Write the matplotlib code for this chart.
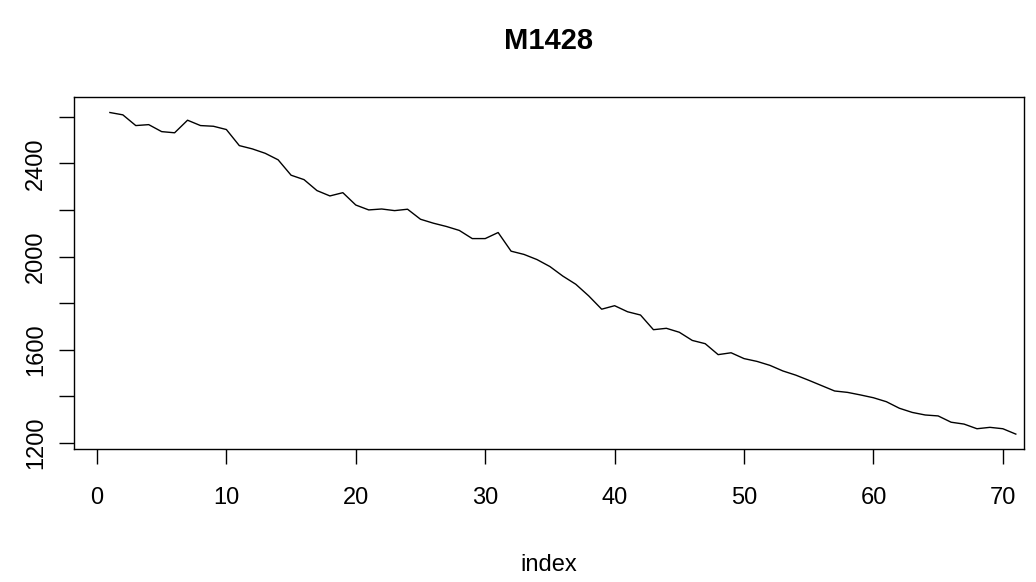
import matplotlib
matplotlib.use('Agg')
import matplotlib.pyplot as plt

plt.rcParams['font.family'] = ['Liberation Sans', 'DejaVu Sans']

# series M1428
values = [2618, 2608, 2562, 2566, 2536, 2531, 2585, 2562, 2559, 2545,
          2476, 2462, 2443, 2415, 2349, 2330, 2283, 2260, 2274, 2221,
          2200, 2204, 2197, 2203, 2160, 2143, 2129, 2112, 2077, 2077,
          2103, 2023, 2009, 1987, 1957, 1916, 1881, 1831, 1774, 1789,
          1763, 1749, 1686, 1692, 1675, 1640, 1626, 1579, 1587, 1562,
          1550, 1533, 1509, 1491, 1469, 1446, 1423, 1417, 1406, 1394,
          1377, 1349, 1331, 1320, 1316, 1289, 1281, 1261, 1267, 1261,
          1238]
index = list(range(1, len(values) + 1))

xticks = [0, 10, 20, 30, 40, 50, 60, 70]
yticks = [1200, 1400, 1600, 1800, 2000, 2200, 2400, 2600]
ylabels = ['1200', '', '1600', '', '2000', '', '2400', '']

fig = plt.figure(figsize=(10.36, 5.82), dpi=100)
ax = fig.add_axes([0.0711, 0.2285, 0.9169, 0.6054])

ax.plot(index, values, color='black', lw=1)

ax.set_xlim(-1.8, 71.6)
ax.set_ylim(1174, 2686)
ax.set_xticks(xticks)
ax.set_yticks(yticks)
ax.set_yticklabels(ylabels, rotation=90, va='center')

ax.tick_params(axis='both', direction='out', length=11, width=1, labelsize=17)
ax.tick_params(axis='x', pad=16)
ax.tick_params(axis='y', pad=8)
for s in ax.spines.values():
    s.set_linewidth(1)

ax.set_title('M1428', fontsize=21, fontweight='bold', pad=34)
ax.set_xlabel('index', fontsize=17, labelpad=33)

fig.savefig('out.png', dpi=100)
